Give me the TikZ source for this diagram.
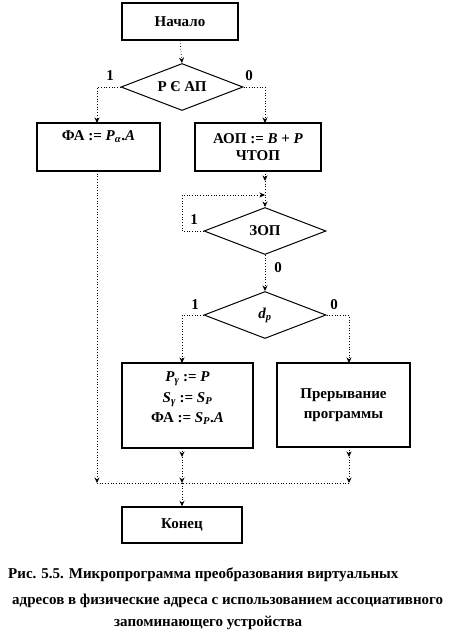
\documentclass[tikz,border=0pt]{standalone}
\usepackage{fontspec}
\setmainfont{Liberation Serif}
\usetikzlibrary{shapes.geometric,arrows.meta}
\newcommand{\bi}[1]{\textbf{\textit{#1}}}
\begin{document}
\begin{tikzpicture}[x=1pt,y=-1pt,
  txt/.style={font=\bfseries\fontsize{15}{17}\selectfont},
  box/.style={draw, line width=1.5pt, inner sep=0pt, txt, align=center},
  dia/.style={draw, diamond, aspect=2.6, line width=1pt, inner sep=0pt, txt, minimum width=122pt, minimum height=47pt},
  flow/.style={dotted, line width=0.7pt},
  arr/.style={flow, -{Stealth[length=5.5pt,width=5pt]}},
  lbl/.style={txt, inner sep=0pt},
  captxt/.style={font=\bfseries\fontsize{15}{17}\selectfont, anchor=west, inner sep=0pt}]
\useasboundingbox (0,0) rectangle (460,641);

% nodes
\node[box, minimum width=116pt, minimum height=37pt] (start) at (180,21.5) {Начало};
\node[dia] (dA) at (182,87) {Р Є АП};
\node[box, minimum width=123pt, minimum height=48pt] (fa) at (98.5,147) {};
\node[txt, inner sep=0pt] (fatext) at (98.5,137) {ФА := \bi{P}\textsubscript{\bi{α}}.\bi{A}};
\node[box, minimum width=126pt, minimum height=48pt] (aop) at (258,147) {АОП := \bi{B} + \bi{P}\\ЧТОП};
\node[dia] (zop) at (265,231) {ЗОП};
\node[dia] (dp) at (265,315) {\raisebox{2pt}{\bi{d}\textsubscript{\bi{p}}}};
\node[box, minimum width=131pt, minimum height=85pt] (pg) at (187.5,405.5)
  {\bi{P}\textsubscript{\bi{γ}} := \bi{P}\\[4pt]\bi{S}\textsubscript{\bi{γ}} := \bi{S}\textsubscript{\bi{P}}\\[3pt]ФА := \bi{S}\textsubscript{\bi{P}}.\bi{A}\\[0pt]};
\node[box, minimum width=133pt, minimum height=84pt] (pr) at (343.5,405) {Прерывание\\[3pt]программы};
\node[box, minimum width=120pt, minimum height=36pt] (end) at (182,525) {Конец};

% labels
\node[lbl] (l1) at (110,76) {1};
\node[lbl] (l0) at (249,76) {0};
\node[lbl] (l2) at (194,220) {1};
\node[lbl] (l3) at (278,268) {0};
\node[lbl] (l4) at (195,305) {1};
\node[lbl] (l5) at (334,305) {0};

% coordinates
\coordinate (aopOut) at (265,171);
\coordinate (aopMid) at (265,181);
\coordinate (loopL) at (182,195);
\coordinate (loopR) at (265,195);
\coordinate (faIn) at (97,123);
\coordinate (aopIn) at (265,123);
\coordinate (pgIn) at (182,363);
\coordinate (prIn) at (349,363);
\coordinate (pgOut) at (182,448);
\coordinate (pgMid) at (182,457);
\coordinate (prOut) at (349,447);
\coordinate (prMid) at (349,457);
\coordinate (faOut) at (97,171);
\coordinate (jL) at (97,483);
\coordinate (jM) at (182,483);
\coordinate (jR) at (349,483);

% connectors
\draw[arr] (start.south) -- (dA.north);
\draw[arr] (dA.west) -| (faIn);
\draw[arr] (dA.east) -| (aopIn);
\draw[arr] (aopOut) -- (aopMid);
\draw[arr] (aopMid) -- (zop.north);
\draw[arr] (zop.west) -| (loopL) -- (loopR);
\draw[arr] (zop.south) -- (dp.north);
\draw[arr] (dp.west) -| (pgIn);
\draw[arr] (dp.east) -| (prIn);
\draw[arr] (faOut) -- (jL);
\draw[arr] (pgOut) -- (pgMid);
\draw[arr] (pgMid) -- (jM);
\draw[arr] (prOut) -- (prMid);
\draw[arr] (prMid) -- (jR);
\draw[flow] (jL) -- (jR);
\draw[arr] (jM) -- (end.north);

% caption
\node[captxt] (c1) at (8,575) {Рис. 5.5. Микропрограмма преобразования виртуальных};
\node[captxt] (c2) at (12,601) {адресов в физические адреса с использованием ассоциативного};
\node[captxt] (c3) at (114,623) {запоминающего устройства};
\end{tikzpicture}
\end{document}
